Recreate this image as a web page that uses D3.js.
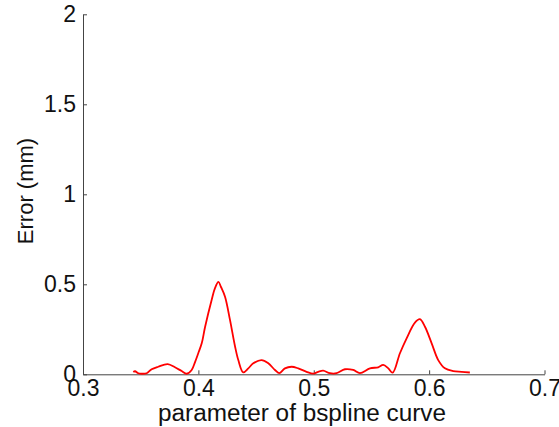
<!DOCTYPE html>
<html>
<head>
<meta charset="utf-8">
<script src="https://cdn.jsdelivr.net/npm/d3@7"></script>
<style>
  html, body { margin: 0; padding: 0; background: #fff; }
  svg { display: block; }
  text { font-family: "Liberation Sans", Arial, sans-serif; fill: #111; }
</style>
</head>
<body>
<svg id="chart" width="559" height="427"></svg>
<script>
// Data
const paramValues = [0.3436,0.3451,0.3479,0.3509,0.3552,0.3595,0.3652,0.3734,0.3797,0.3855,0.3899,0.3942,0.3971,0.3999,0.4029,0.4058,0.4115,0.4144,0.4174,0.4196,0.4231,0.4274,0.4317,0.4346,0.4389,0.4433,0.4476,0.4548,0.4606,0.4664,0.4701,0.4750,0.4808,0.4866,0.4938,0.4996,0.5039,0.5082,0.5140,0.5198,0.5270,0.5342,0.5400,0.5487,0.5559,0.5602,0.5646,0.5684,0.5747,0.5805,0.5877,0.5920,0.5964,0.6022,0.6079,0.6137,0.6209,0.6282,0.6353];
const errorValues = [0.013,0.017,0.006,0.003,0.006,0.028,0.042,0.056,0.039,0.018,0.003,0.024,0.068,0.117,0.172,0.263,0.413,0.479,0.513,0.485,0.431,0.302,0.157,0.079,0.011,0.033,0.061,0.079,0.061,0.024,0.006,0.033,0.042,0.033,0.014,0.004,0.014,0.020,0.006,0.006,0.028,0.024,0.006,0.033,0.039,0.052,0.033,0.009,0.117,0.200,0.287,0.306,0.264,0.172,0.079,0.033,0.018,0.014,0.010];
const xTicks = [0.3, 0.4, 0.5, 0.6, 0.7];
const yTicks = [0, 0.5, 1, 1.5, 2];
const xLabel = "parameter of bspline curve";
const yLabel = "Error (mm)";

const svg = d3.select("#chart");
const x = d3.scaleLinear().domain([0.3, 0.7]).range([83, 544.5]);
const y = d3.scaleLinear().domain([0, 2]).range([374.3, 14.3]);

const axisColor = "#444";

// X axis
const gx = svg.append("g").attr("transform", `translate(0,${y(0)})`)
  .call(d3.axisBottom(x).tickValues(xTicks).tickSizeInner(-4).tickSizeOuter(0).tickPadding(5)
    .tickFormat(d3.format(".1f")));
gx.select(".domain").attr("stroke", axisColor);
gx.selectAll(".tick line").attr("stroke", axisColor);
gx.selectAll(".tick text").attr("font-size", 23).attr("fill", "#111")
  .attr("font-family", "Liberation Sans, Arial, sans-serif");

// Y axis
const gy = svg.append("g").attr("transform", `translate(${x(0.3)},0)`)
  .call(d3.axisLeft(y).tickValues(yTicks).tickSizeInner(-4).tickSizeOuter(0).tickPadding(7)
    .tickFormat(d => d3.format("")(d)));
gy.select(".domain").attr("stroke", axisColor);
gy.selectAll(".tick line").attr("stroke", axisColor);
gy.selectAll(".tick text").attr("font-size", 23).attr("fill", "#111")
  .attr("font-family", "Liberation Sans, Arial, sans-serif");

// Line
const pts = paramValues.map((p, i) => [p, errorValues[i]]);
svg.append("path")
  .datum(pts)
  .attr("fill", "none")
  .attr("stroke", "#ff0000")
  .attr("stroke-width", 1.8)
  .attr("stroke-linejoin", "round")
  .attr("d", d3.line().x(d => x(d[0])).y(d => y(d[1])).curve(d3.curveCatmullRom.alpha(0.5)));

// Axis labels
svg.append("text")
  .attr("x", 302).attr("y", 421)
  .attr("text-anchor", "middle")
  .attr("font-size", 23)
  .attr("textLength", 288)
  .attr("lengthAdjust", "spacingAndGlyphs")
  .text(xLabel);

svg.append("text")
  .attr("transform", "translate(33,191) rotate(-90)")
  .attr("text-anchor", "middle")
  .attr("font-size", 22)
  .text(yLabel);
</script>
</body>
</html>
